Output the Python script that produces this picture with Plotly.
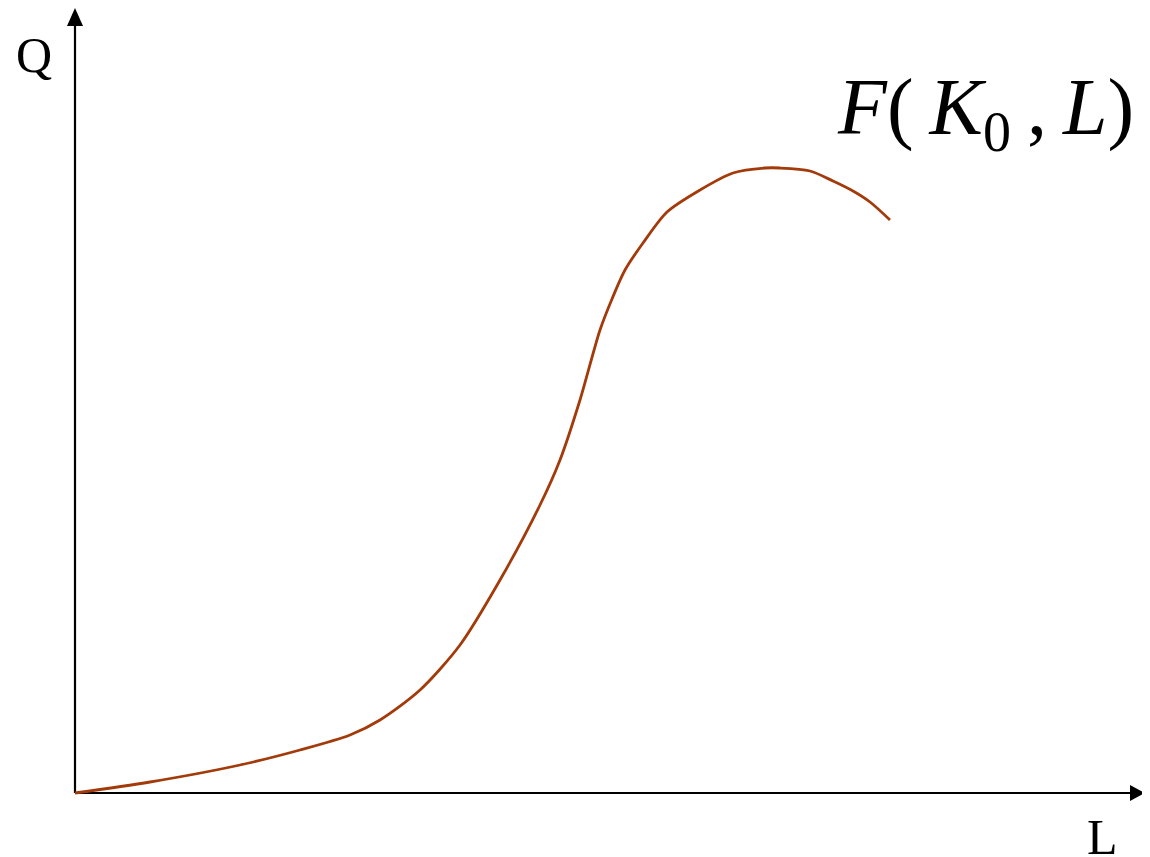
import plotly.graph_objects as go

# Production curve F(K0, L): labour L vs output Q (arbitrary units)
L_values = [0, 75, 165, 225, 275, 305, 345, 385, 425, 465, 485, 505, 525, 537, 550, 568,
            592, 625, 658, 690, 705, 735, 758, 778, 795, 815]
Q_values = [0, 11, 28, 43, 58, 73, 103, 148, 213, 288, 333, 393, 463, 494, 523, 550,
            581, 603, 620, 625, 625, 622, 612, 602, 591, 573]

x_axis_label = "L"
y_axis_label = "Q"
curve_label = "<i>F</i>(\u2009<i>K</i><sub>0</sub>\u2009,\u2009<i>L</i>)"

# page body has an 8px margin, so the figure is placed at (8, 8)
W, H = 1142, 849
x_range = [-67, 1075]
y_range = [-64, 785]

fig = go.Figure()

# axes lines
fig.add_trace(go.Scatter(x=[0, 1058], y=[0, 0], mode="lines",
                         line=dict(color="black", width=2.2), hoverinfo="skip", showlegend=False))
fig.add_trace(go.Scatter(x=[0, 0], y=[0, 770], mode="lines",
                         line=dict(color="black", width=2.2), hoverinfo="skip", showlegend=False))

# curve
fig.add_trace(go.Scatter(x=L_values, y=Q_values, mode="lines",
                         line=dict(color="#A33A0A", width=2.8, shape="spline", smoothing=0.8),
                         hoverinfo="skip", showlegend=False))

# arrowheads
fig.add_shape(type="path", path="M 1070 0 L 1055 8 L 1055 -8 Z",
              fillcolor="black", line=dict(color="black", width=0), xref="x", yref="y")
fig.add_shape(type="path", path="M 0 785 L -8 767 L 8 767 Z",
              fillcolor="black", line=dict(color="black", width=0), xref="x", yref="y")

# labels
fig.add_annotation(x=-41, y=738, text=y_axis_label, showarrow=False,
                   font=dict(family="Liberation Serif", size=50, color="black"))
fig.add_annotation(x=1027, y=-44, text=x_axis_label, showarrow=False,
                   font=dict(family="Liberation Serif", size=50, color="black"))
fig.add_annotation(x=910, y=680, text=curve_label, showarrow=False,
                   font=dict(family="Liberation Serif", size=80, color="black"))

fig.update_layout(
    width=W, height=H,
    margin=dict(l=0, r=0, t=0, b=0),
    paper_bgcolor="white", plot_bgcolor="white",
    xaxis=dict(range=x_range, visible=False, fixedrange=True),
    yaxis=dict(range=y_range, visible=False, fixedrange=True),
)

fig.write_html("out.html")
